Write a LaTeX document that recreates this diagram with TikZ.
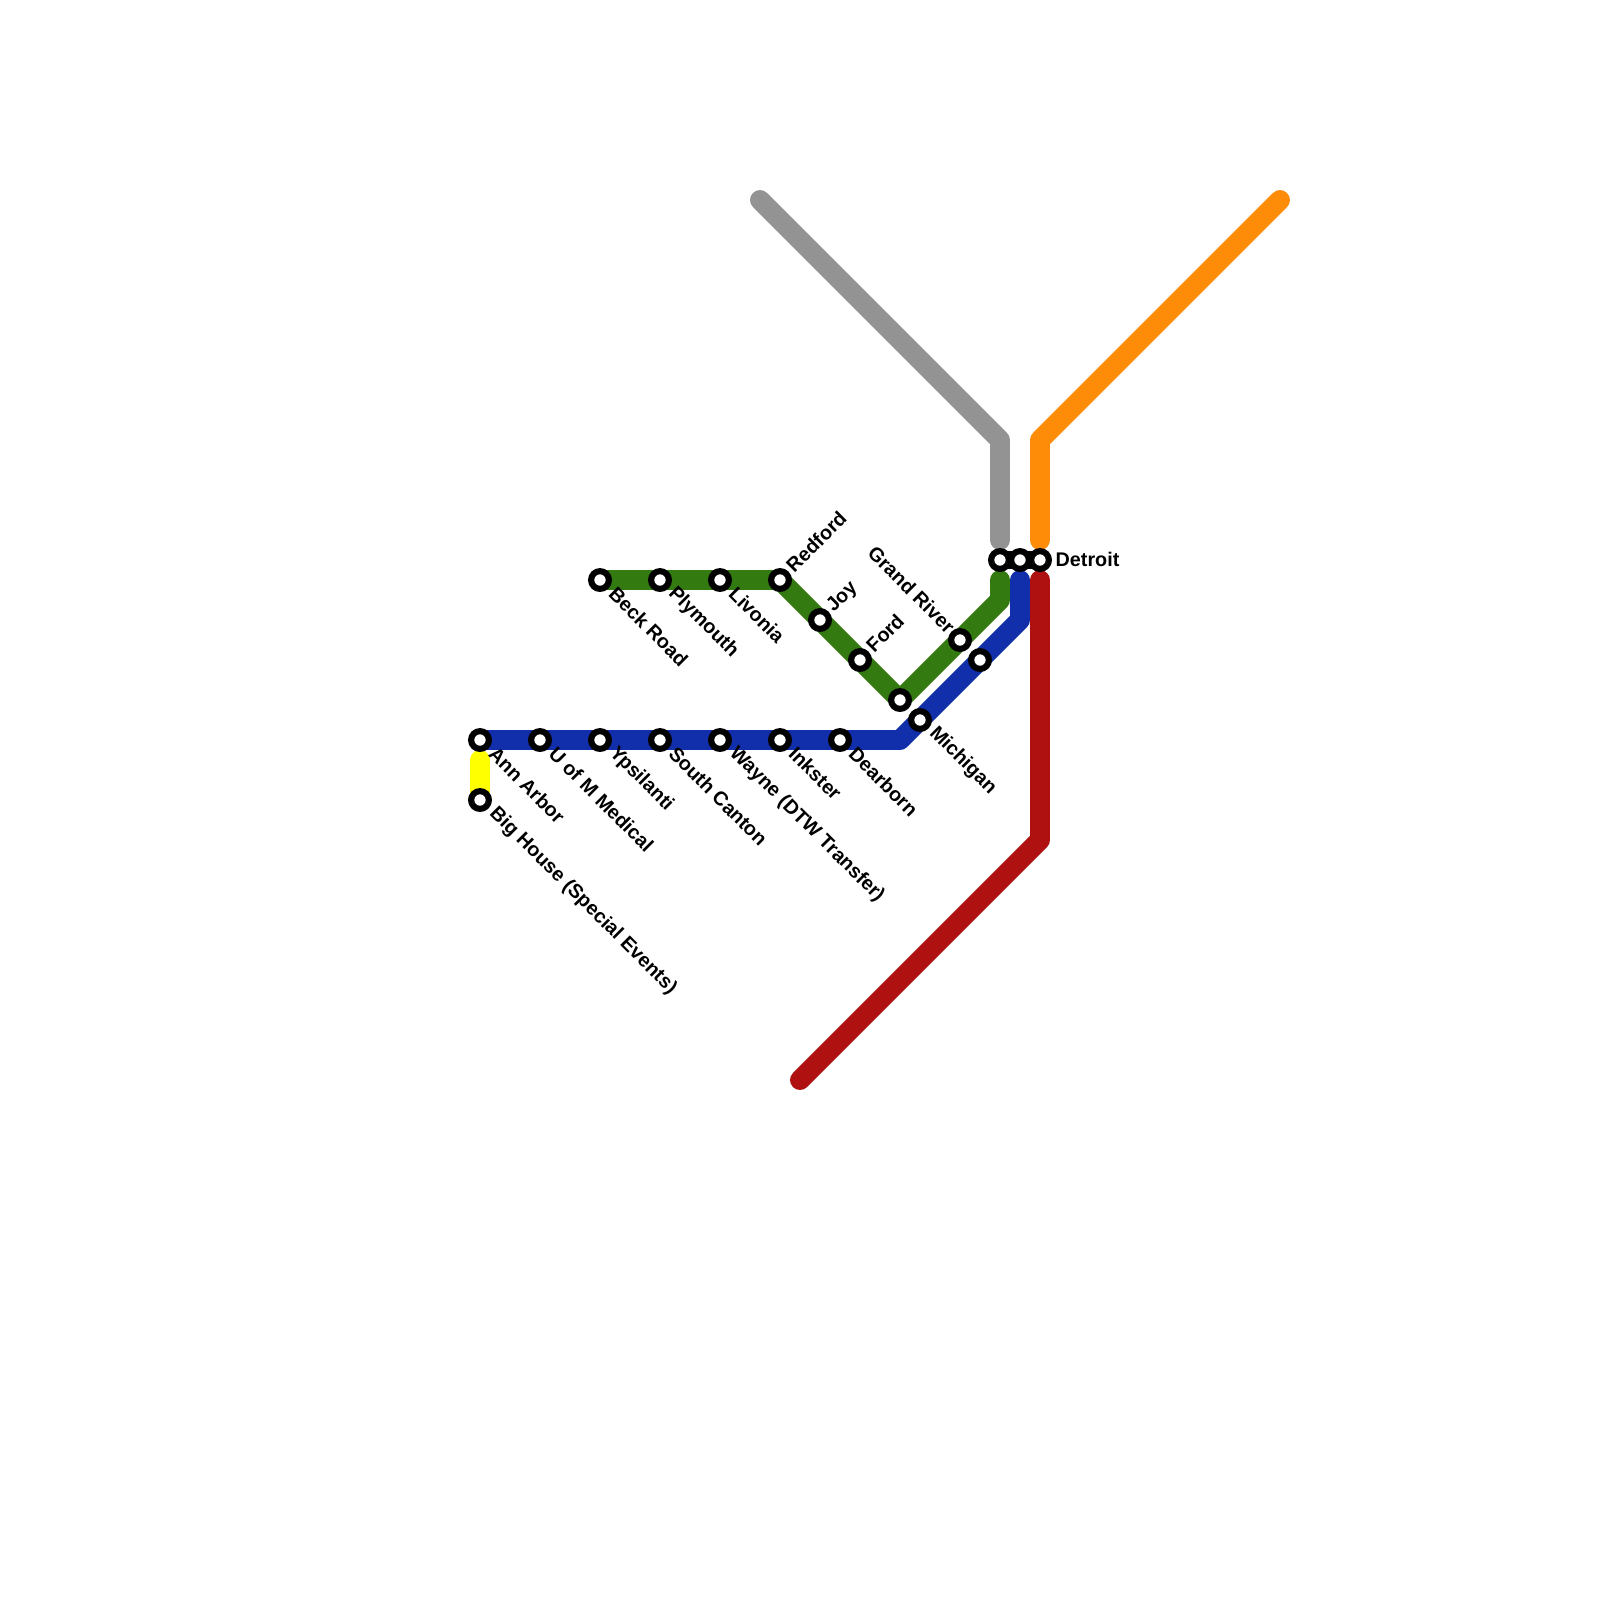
\documentclass[tikz,border=0pt]{standalone}
\usepackage{fontspec}
\setmainfont{Liberation Sans}
\usetikzlibrary{backgrounds}
\definecolor{linegray}{HTML}{939393}
\definecolor{lineorange}{HTML}{FF8C08}
\definecolor{linered}{HTML}{AF1010}
\definecolor{lineblue}{HTML}{112EAB}
\definecolor{linegreen}{HTML}{337B11}
\definecolor{lineyellow}{HTML}{FFFF00}
\begin{document}
\begin{tikzpicture}[
    x=0.2cm, y=-0.2cm,
    station/.style={circle, draw=black, fill=white, line width=1.75pt, minimum size=5.05pt, inner sep=0pt},
    metro/.style={line width=5.67pt, line cap=round, line join=round},
    lbl/.style={font=\bfseries\fontsize{5.62pt}{7pt}\selectfont, inner sep=0pt},
    lbldown/.style={lbl, rotate=-45, anchor=west},
    lblup/.style={lbl, rotate=45, anchor=west},
    lblback/.style={lbl, rotate=-45, anchor=east}
]
    \useasboundingbox (0,0) rectangle (80,80);

    % blue line stations
    \node[station] (annarbor) at (24,37) {};
    \node[station] (uofm)     at (27,37) {};
    \node[station] (ypsi)     at (30,37) {};
    \node[station] (canton)   at (33,37) {};
    \node[station] (wayne)    at (36,37) {};
    \node[station] (inkster)  at (39,37) {};
    \node[station] (dearborn) at (42,37) {};
    \node[station] (michigan) at (46,36) {};
    \node[station] (bluemid)  at (49,33) {};
    \node[station] (bighouse) at (24,40) {};

    % green line stations
    \node[station] (beck)     at (30,29) {};
    \node[station] (plymouth) at (33,29) {};
    \node[station] (livonia)  at (36,29) {};
    \node[station] (redford)  at (39,29) {};
    \node[station] (joy)      at (41,31) {};
    \node[station] (ford)     at (43,33) {};
    \node[station] (greenlow) at (45,35) {};
    \node[station] (grandriver) at (48,32) {};

    % detroit
    \node[station] (detroita) at (50,28) {};
    \node[station] (detroitb) at (51,28) {};
    \node[station] (detroitc) at (52,28) {};

    % line ends and bends
    \coordinate (bluebend) at (45,37);
    \coordinate (bluetop)  at (51,31);
    \coordinate (blueend)  at (51,29);
    \coordinate (greentop) at (50,30);
    \coordinate (greenend) at (50,29);
    \coordinate (yellowend) at (24,38);
    \coordinate (grayend)  at (38,10);
    \coordinate (graybend) at (50,22);
    \coordinate (graylow)  at (50,27);
    \coordinate (orangeend)  at (64,10);
    \coordinate (orangebend) at (52,22);
    \coordinate (orangelow)  at (52,27);
    \coordinate (redend)  at (40,54);
    \coordinate (redbend) at (52,42);
    \coordinate (redtop)  at (52,29);

    \begin{scope}[on background layer]
        \draw[metro, lineyellow] (yellowend) -- (bighouse.center);
        \draw[metro, linegray] (grayend) -- (graybend) -- (graylow);
        \draw[metro, lineorange] (orangeend) -- (orangebend) -- (orangelow);
        \draw[metro, linegreen] (beck.center) -- (redford.center) -- (greenlow.center) -- (greentop) -- (greenend);
        \draw[metro, lineblue] (annarbor.center) -- (bluebend) -- (bluetop) -- (blueend);
        \draw[metro, linered] (redend) -- (redbend) -- (redtop);
        \draw[line width=5pt] (detroita.center) -- (detroitc.center);
    \end{scope}

    \node[lbldown] (lannarbor) at (24.6,37.5) {Ann Arbor};
    \node[lbldown] (luofm)     at (27.6,37.5) {U of M Medical};
    \node[lbldown] (lypsi)     at (30.6,37.5) {Ypsilanti};
    \node[lbldown] (lcanton)   at (33.6,37.5) {South Canton};
    \node[lbldown] (lwayne)    at (36.6,37.5) {Wayne (DTW Transfer)};
    \node[lbldown] (linkster)  at (39.6,37.5) {Inkster};
    \node[lbldown] (ldearborn) at (42.6,37.5) {Dearborn};
    \node[lbldown] (lmichigan) at (46.6,36.5) {Michigan};
    \node[lbldown] (lbighouse) at (24.6,40.5) {Big House (Special Events)};
    \node[lbldown] (lbeck)     at (30.6,29.5) {Beck Road};
    \node[lbldown] (lplymouth) at (33.55,29.5) {Plymouth};
    \node[lbldown] (llivonia)  at (36.6,29.5) {Livonia};
    \node[lblup]   (lredford)  at (39.45,28.45) {Redford};
    \node[lblup]   (ljoy)      at (41.5,30.5) {Joy};
    \node[lblup]   (lford)     at (43.45,32.45) {Ford};
    \node[lblback] (lgrandriver) at (47.6,31.5) {Grand River};
    \node[lbl, anchor=west] (ldetroit) at (52.75,27.95) {Detroit};
\end{tikzpicture}
\end{document}
